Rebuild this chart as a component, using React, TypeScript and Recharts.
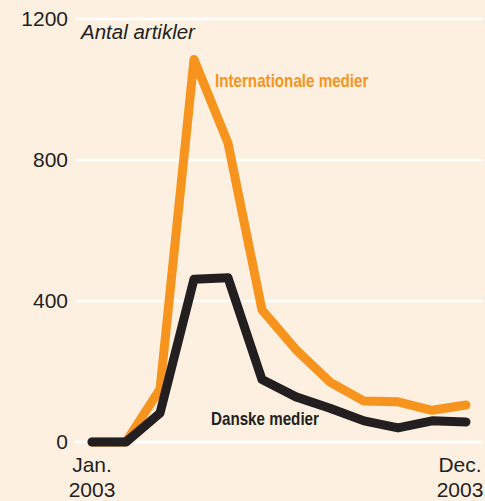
import { LineChart, Line, XAxis, YAxis, CartesianGrid } from "recharts";

const months = ["Jan.", "Feb.", "Mar.", "Apr.", "Maj", "Jun.", "Jul.", "Aug.", "Sep.", "Okt.", "Nov.", "Dec."];
const international = [0, 0, 150, 1085, 848, 375, 262, 170, 116, 114, 90, 105];
const danske = [0, 0, 82, 462, 466, 177, 128, 96, 60, 40, 60, 57];
const yTicks = [0, 400, 800, 1200];

const data = months.map((m, i) => ({
  month: m,
  international: international[i],
  danske: danske[i],
}));

const BG = "#fdf0e1";
const ORANGE = "#f7941d";
const DARK = "#231f20";
const FONT = "'Liberation Sans', Arial, sans-serif";

interface TickProps {
  x?: number;
  y?: number;
  index?: number;
  payload?: { value: string };
}

const MonthTick = ({ x = 0, y = 0, index = 0, payload }: TickProps) => {
  if (index !== 0 && index !== months.length - 1) return null;
  const dx = index === 0 ? 0 : -6;
  return (
    <text x={x + dx} y={y} textAnchor="middle" fill={DARK} fontSize={21} fontFamily={FONT}>
      <tspan x={x + dx} dy={22}>{payload?.value}</tspan>
      <tspan x={x + dx} dy={25}>2003</tspan>
    </text>
  );
};

// condensed bold look, faked by squeezing regular bold sideways
const seriesLabel = {
  position: "absolute" as const,
  fontFamily: FONT,
  fontWeight: "bold" as const,
  fontSize: 18.5,
  whiteSpace: "nowrap" as const,
  transform: "scaleX(0.82)",
  transformOrigin: "left top",
};

export default function App() {
  return (
    <div style={{ position: "absolute", left: 0, top: 0, width: 485, height: 501, background: BG }}>
      <LineChart
        width={485}
        height={501}
        data={data}
        margin={{ top: 19, right: 2, bottom: 0, left: 0 }}
      >
        <CartesianGrid vertical={false} stroke="#ffffff" strokeWidth={2.5} />
        <XAxis
          dataKey="month"
          height={59}
          axisLine={false}
          tickLine={false}
          interval={0}
          padding={{ left: 17, right: 17 }}
          tick={<MonthTick />}
        />
        <YAxis
          width={75}
          domain={[0, 1200]}
          ticks={yTicks}
          axisLine={false}
          tickLine={false}
          tickSize={0}
          tickMargin={7}
          tick={{ fill: DARK, fontSize: 21, fontFamily: FONT }}
        />
        <Line
          type="linear"
          dataKey="international"
          stroke={ORANGE}
          strokeWidth={9}
          strokeLinecap="round"
          strokeLinejoin="round"
          dot={false}
          isAnimationActive={false}
        />
        <Line
          type="linear"
          dataKey="danske"
          stroke={DARK}
          strokeWidth={9}
          strokeLinecap="round"
          strokeLinejoin="round"
          dot={false}
          isAnimationActive={false}
        />
      </LineChart>
      <div
        style={{
          position: "absolute",
          left: 81,
          top: 20,
          fontFamily: FONT,
          fontStyle: "italic",
          fontSize: 20.5,
          color: DARK,
          whiteSpace: "nowrap",
        }}
      >
        Antal artikler
      </div>
      <div style={{ ...seriesLabel, left: 215, top: 70, color: ORANGE }}>Internationale medier</div>
      <div style={{ ...seriesLabel, left: 211, top: 408, color: DARK }}>Danske medier</div>
    </div>
  );
}
